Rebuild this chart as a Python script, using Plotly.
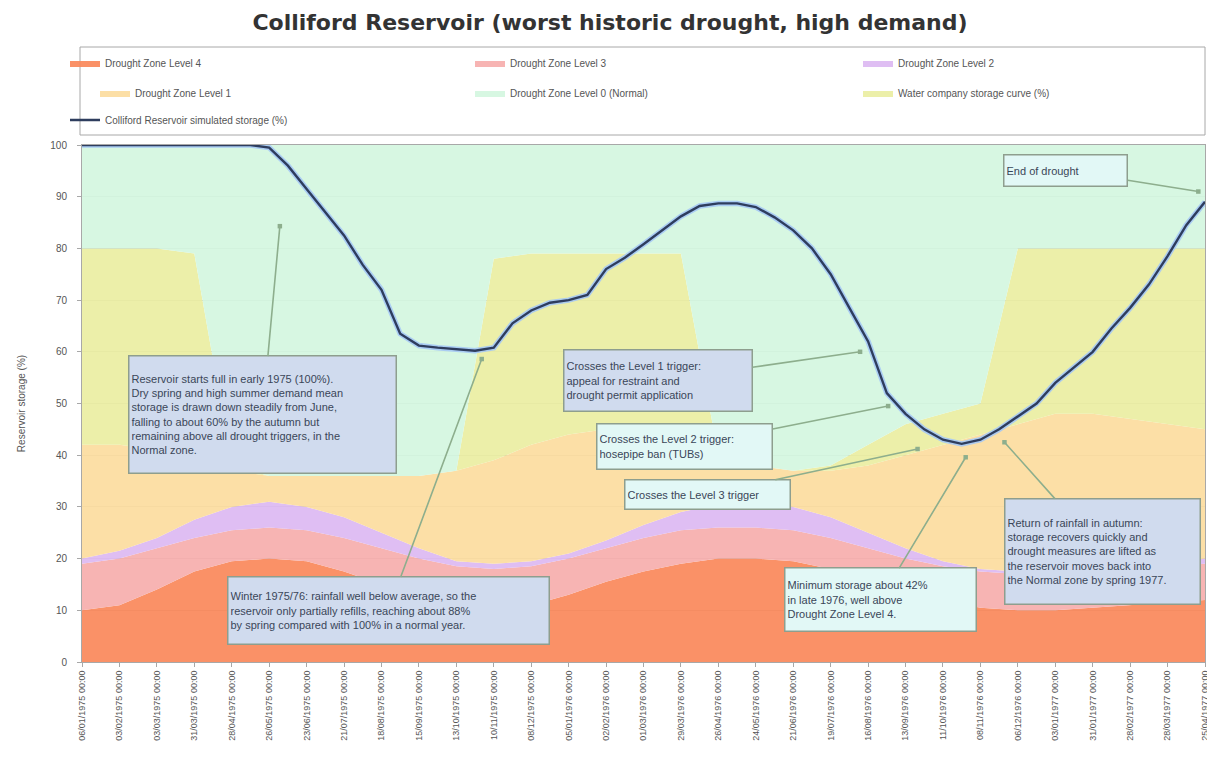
import pandas as pd
import plotly.graph_objects as go

# ---------------- data ----------------
start = pd.Timestamp("1975-01-06")
zone_dates = pd.date_range(start, periods=31, freq="28D")      # tick / zone dates (4-weekly)
storage_dates = pd.date_range(start, periods=61, freq="14D")   # simulated storage (fortnightly)

level4 = [10, 11, 14, 17.5, 19.5, 20, 19.5, 17.5, 15, 12.5, 11, 10.5, 11, 13, 15.5, 17.5,
          19, 20, 20, 19.5, 18, 16, 14, 12, 10.5, 10, 10, 10.5, 11, 11.5, 12]
level3 = [19, 20, 22, 24, 25.5, 26, 25.5, 24, 22, 20, 18.5, 18, 18.5, 20, 22, 24,
          25.5, 26, 26, 25.5, 24, 22, 20, 18.5, 17.5, 17, 17, 17.5, 18, 18.5, 19]
level2 = [20, 21.5, 24, 27.5, 30, 31, 30, 28, 25, 22, 19.5, 19, 19.5, 21, 23.5, 26.5,
          29, 30.5, 31, 30, 28, 25, 22, 19.5, 18, 17.5, 17.5, 18, 18.5, 19, 20]
level1 = [42, 42, 41, 39, 37, 36, 36, 36, 36, 36, 37, 39, 42, 44, 45, 45,
          43, 40, 38, 37, 37, 38, 40, 42, 44, 46, 48, 48, 47, 46, 45]
company_curve = [80, 80, 80, 79, 38, 36, 36, 36, 36, 36, 37, 78, 79, 79, 79, 79,
                 79, 40, 38, 37, 38, 42, 46, 48, 50, 80, 80, 80, 80, 80, 80]
normal_top = [100] * 31

storage = [100, 100, 100, 100, 100, 100, 100, 100, 100, 100, 99.5, 96, 91.5, 87, 82.5, 76.8,
           72, 63.5, 61.2, 60.8, 60.5, 60.2, 60.8, 65.5, 68, 69.5, 70, 71, 76, 78.2, 80.8,
           83.5, 86.2, 88.2, 88.7, 88.7, 88, 86, 83.5, 80, 75, 68.5, 62, 52, 48, 45, 43,
           42.2, 43, 45, 47.5, 50, 54, 57, 60, 64.5, 68.5, 73, 78.5, 84.5, 89]

zone_names = ["Drought Zone Level 4", "Drought Zone Level 3", "Drought Zone Level 2",
              "Drought Zone Level 1", "Water company storage curve (%)",
              "Drought Zone Level 0 (Normal)"]
zone_values = [level4, level3, level2, level1, company_curve, normal_top]
zone_colors = ["rgba(250,136,90,0.92)", "rgba(246,174,172,0.92)", "rgba(220,184,242,0.92)",
               "rgba(252,220,158,0.92)", "rgba(234,238,162,0.92)", "rgba(212,246,224,0.92)"]
storage_name = "Colliford Reservoir simulated storage (%)"

FONT = "Liberation Sans, Arial, sans-serif"

# page has an 8px body margin: work in screen pixels and convert
OFF = 8
W, H = 1215 - OFF, 760 - OFF
PL, PR, PT, PB = 82, 1205, 145, 662          # plot area in screen px


def px_x(sx):
    return (sx - PL) / (PR - PL)


def px_y(sy):
    return (PB - sy) / (PB - PT)


# legend slot for each series: (legend id, text-left screen x, row centre screen y)
legend_slots = {
    "Drought Zone Level 4": ("legend", 105, 63),
    "Drought Zone Level 3": ("legend2", 510, 63),
    "Drought Zone Level 2": ("legend3", 898, 63),
    "Drought Zone Level 1": ("legend4", 135, 93),
    "Drought Zone Level 0 (Normal)": ("legend5", 510, 93),
    "Water company storage curve (%)": ("legend6", 898, 93),
    storage_name: ("legend7", 105, 120),
}

fig = go.Figure()
for i, (name, vals, col) in enumerate(zip(zone_names, zone_values, zone_colors)):
    fig.add_trace(go.Scatter(
        x=zone_dates, y=vals, name=name, mode="lines",
        line=dict(width=0, color=col), fill="tozeroy" if i == 0 else "tonexty",
        fillcolor=col, legend=legend_slots[name][0], hoverinfo="skip"))

# glow under storage line
fig.add_trace(go.Scatter(x=storage_dates, y=storage, mode="lines", showlegend=False,
                         line=dict(color="rgba(165,200,245,0.9)", width=5.5), hoverinfo="skip"))
fig.add_trace(go.Scatter(x=storage_dates, y=storage, mode="lines", name=storage_name,
                         line=dict(color="#2E3D5E", width=2.4),
                         legend=legend_slots[storage_name][0]))

legend_layouts = {}
for name, (lid, tx, ty) in legend_slots.items():
    legend_layouts[lid] = dict(
        x=px_x(tx - 40), xanchor="left", y=px_y(ty), yanchor="middle",
        orientation="h", bgcolor="rgba(0,0,0,0)", borderwidth=0,
        font=dict(family=FONT, size=10, color="#555"), itemwidth=30)

# ---------------- annotations ----------------
def d(days):
    return start + pd.Timedelta(days=days)

box_dark = "#D0DBEE"
box_light = "#E2F8F6"
notes = [
    # tip_days, tip_val, box_days, box_val, text, width, height, bg
    (148, 84.3, 135, 47.8,
     "Reservoir starts full in early 1975 (100%).<br>"
     "Dry spring and high summer demand mean<br>"
     "storage is drawn down steadily from June,<br>"
     "falling to about 60% by the autumn but<br>"
     "remaining above all drought triggers, in the<br>"
     "Normal zone.", 262, 112, box_dark),
    (299, 58.6, 229, 9.9,
     "Winter 1975/76: rainfall well below average, so the<br>"
     "reservoir only partially refills, reaching about 88%<br>"
     "by spring compared with 100% in a normal year.", 316, 62, box_dark),
    (582, 60.0, 431, 54.4,
     "Crosses the Level 1 trigger:<br>appeal for restraint and<br>drought permit application",
     183, 56, box_dark),
    (603, 49.5, 451, 41.7,
     "Crosses the Level 2 trigger:<br>hosepipe ban (TUBs)", 170, 40, box_light),
    (625, 41.2, 467.5, 32.4, "Crosses the Level 3 trigger", 160, 24, box_light),
    (661, 39.6, 597, 12.0,
     "Minimum storage about 42%<br>in late 1976, well above<br>Drought Zone Level 4.",
     186, 58, box_light),
    (690, 42.5, 763, 21.4,
     "Return of rainfall in autumn:<br>storage recovers quickly and<br>"
     "drought measures are lifted as<br>the reservoir moves back into<br>"
     "the Normal zone by spring 1977.", 190, 100, box_dark),
    (835, 91.0, 736, 95.1, "End of drought", 118, 26, box_light),
]
for tip_d, tip_v, box_d, box_v, text, w, h, bg in notes:
    fig.add_annotation(
        x=d(tip_d), y=tip_v, ax=d(box_d), ay=box_v, axref="x", ayref="y",
        xref="x", yref="y", text=text, showarrow=True, arrowhead=7, arrowsize=0.7,
        arrowwidth=1.6, arrowcolor="#8DAE8D", align="left", width=w, height=h,
        bgcolor=bg, bordercolor="#8E9E8E", borderwidth=1.5, borderpad=2,
        font=dict(family=FONT, size=11, color="#3A4658"))

# legend frame
fig.add_shape(type="rect", xref="paper", yref="paper", x0=px_x(80), x1=1,
              y0=px_y(135), y1=px_y(47),
              line=dict(color="#A8A8A8", width=1), fillcolor="white", layer="below")

fig.update_layout(
    width=W, height=H,
    margin=dict(l=PL - OFF, r=W - (PR - OFF), t=PT - OFF, b=H - (PB - OFF), autoexpand=False),
    paper_bgcolor="white", plot_bgcolor="white",
    font=dict(family=FONT, size=10, color="#444"),
    title=dict(text="<b>Colliford Reservoir (worst historic drought, high demand)</b>",
               x=(610 - OFF) / W, xref="container", xanchor="center",
               y=1 - (22 - OFF) / H, yanchor="middle",
               font=dict(family="DejaVu Sans, Verdana, sans-serif", size=22, color="#333")),
    showlegend=True,
    **legend_layouts,
)
fig.update_xaxes(type="date", tickvals=zone_dates, tickformat="%d/%m/%Y %H:%M", tickangle=-90,
                 range=[zone_dates[0], zone_dates[-1]], showgrid=False,
                 showline=True, mirror=True, linecolor="#A8A8A8",
                 ticks="outside", ticklen=4, tickcolor="#A8A8A8",
                 tickfont=dict(size=9, color="#555"))
fig.update_yaxes(range=[0, 100], tickvals=list(range(0, 101, 10)),
                 title=dict(text="Reservoir storage (%)", font=dict(size=10, color="#555"),
                            standoff=22),
                 ticklabelstandoff=8,
                 showgrid=True, gridcolor="#BDBDBD", gridwidth=1,
                 showline=True, mirror=True, linecolor="#A8A8A8",
                 ticks="outside", ticklen=4, tickcolor="#A8A8A8",
                 tickfont=dict(size=10, color="#555"))

fig.write_html("out.html")
